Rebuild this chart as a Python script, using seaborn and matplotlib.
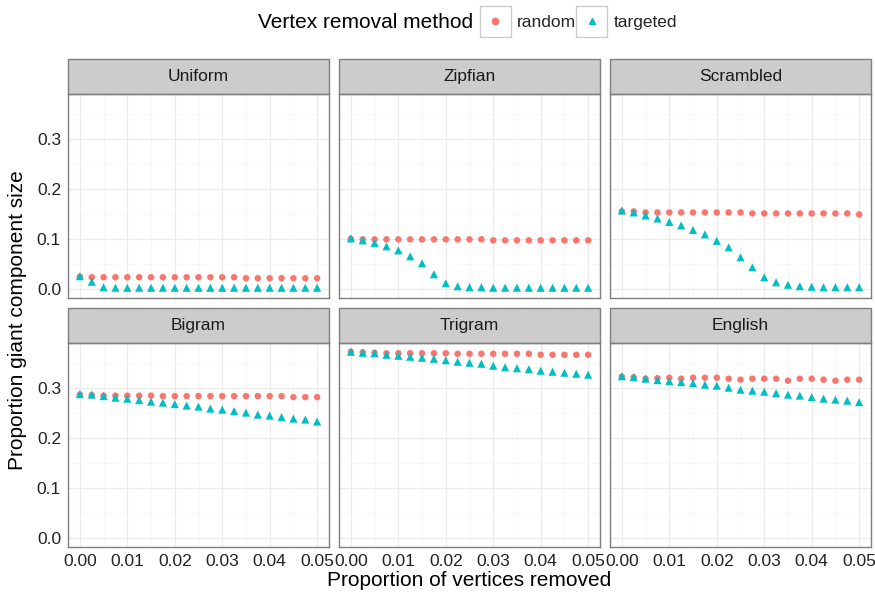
import pandas as pd
import matplotlib
matplotlib.use("Agg")
import matplotlib.pyplot as plt
import seaborn as sns
from matplotlib.patches import Rectangle
from matplotlib.lines import Line2D
from matplotlib.ticker import MultipleLocator

# Dados
corpora = ["Uniform", "Zipfian", "Scrambled", "Bigram", "Trigram", "English"]
removed = [0.0, 0.0025, 0.005, 0.0075, 0.01, 0.0125, 0.015, 0.0175, 0.02, 0.0225, 0.025,
           0.0275, 0.03, 0.0325, 0.035, 0.0375, 0.04, 0.0425, 0.045, 0.0475, 0.05]

random_uniform = [0.024, 0.023, 0.023, 0.023, 0.023, 0.023, 0.023, 0.023, 0.023, 0.023, 0.023,
                  0.023, 0.023, 0.023, 0.021, 0.021, 0.021, 0.021, 0.021, 0.021, 0.021]
targeted_uniform = [0.025, 0.014, 0.003, 0.002, 0.002, 0.002, 0.002, 0.002, 0.002, 0.002, 0.002,
                    0.002, 0.002, 0.002, 0.002, 0.002, 0.002, 0.002, 0.002, 0.002, 0.002]

random_zipfian = [0.100, 0.099, 0.099, 0.099, 0.099, 0.099, 0.099, 0.099, 0.099, 0.099, 0.099,
                  0.099, 0.097, 0.097, 0.097, 0.097, 0.097, 0.097, 0.097, 0.097, 0.097]
targeted_zipfian = [0.101, 0.097, 0.092, 0.085, 0.077, 0.065, 0.051, 0.029, 0.011, 0.005, 0.003,
                    0.003, 0.002, 0.002, 0.002, 0.002, 0.002, 0.002, 0.002, 0.002, 0.002]

random_scrambled = [0.155, 0.155, 0.153, 0.153, 0.153, 0.153, 0.153, 0.153, 0.153, 0.153, 0.153,
                    0.151, 0.151, 0.151, 0.151, 0.151, 0.151, 0.151, 0.151, 0.151, 0.149]
targeted_scrambled = [0.157, 0.153, 0.147, 0.141, 0.134, 0.127, 0.118, 0.109, 0.096, 0.083, 0.063,
                      0.043, 0.023, 0.013, 0.008, 0.005, 0.004, 0.003, 0.003, 0.003, 0.003]

random_bigram = [0.287, 0.286, 0.285, 0.285, 0.285, 0.285, 0.285, 0.284, 0.284, 0.284, 0.284,
                 0.284, 0.284, 0.284, 0.284, 0.284, 0.284, 0.284, 0.282, 0.282, 0.282]
targeted_bigram = [0.288, 0.287, 0.284, 0.281, 0.279, 0.276, 0.273, 0.271, 0.268, 0.265, 0.263,
                   0.259, 0.257, 0.254, 0.251, 0.247, 0.245, 0.242, 0.239, 0.237, 0.233]

random_trigram = [0.373, 0.372, 0.371, 0.370, 0.370, 0.370, 0.370, 0.370, 0.370, 0.369, 0.369,
                  0.369, 0.369, 0.369, 0.369, 0.369, 0.367, 0.367, 0.367, 0.367, 0.367]
targeted_trigram = [0.373, 0.371, 0.370, 0.367, 0.365, 0.363, 0.361, 0.359, 0.356, 0.353, 0.351,
                    0.349, 0.345, 0.342, 0.340, 0.338, 0.335, 0.333, 0.331, 0.329, 0.327]

random_english = [0.323, 0.322, 0.319, 0.320, 0.321, 0.319, 0.321, 0.321, 0.321, 0.319, 0.317,
                  0.319, 0.319, 0.319, 0.315, 0.319, 0.319, 0.317, 0.315, 0.317, 0.317]
targeted_english = [0.324, 0.322, 0.319, 0.316, 0.314, 0.312, 0.310, 0.307, 0.305, 0.301, 0.297,
                    0.295, 0.293, 0.290, 0.287, 0.285, 0.282, 0.279, 0.277, 0.275, 0.272]

series = {
    "Uniform": (random_uniform, targeted_uniform),
    "Zipfian": (random_zipfian, targeted_zipfian),
    "Scrambled": (random_scrambled, targeted_scrambled),
    "Bigram": (random_bigram, targeted_bigram),
    "Trigram": (random_trigram, targeted_trigram),
    "English": (random_english, targeted_english),
}

rows = []
for corpus in corpora:
    rnd, tgt = series[corpus]
    for x, y in zip(removed, rnd):
        rows.append((corpus, "random", x, y))
    for x, y in zip(removed, tgt):
        rows.append((corpus, "targeted", x, y))
df = pd.DataFrame(rows, columns=["corpus", "method", "removed", "size"])

sns.set_theme(style="white")
plt.rcParams["font.family"] = ["Liberation Sans", "DejaVu Sans"]

pal = {"random": "#F8766D", "targeted": "#00BFC4"}
mk = {"random": "o", "targeted": "^"}

g = sns.relplot(data=df, x="removed", y="size", hue="method", style="method",
                size="method", sizes={"random": 22, "targeted": 34},
                col="corpus", col_wrap=3, col_order=corpora, palette=pal, markers=mk,
                linewidth=0, height=2, aspect=1.3, legend=False,
                facet_kws=dict(sharex=True, sharey=True, despine=False))

fig = g.figure
W, H = 875, 593
fig.set_size_inches(W / 100, H / 100)
fig.set_dpi(100)

lefts = [68, 339, 610]
tops = [94, 343]
pw, ph = 261, 204
strip_h = 35

for i, ax in enumerate(g.axes.flat):
    r, c = divmod(i, 3)
    ax.set_position([lefts[c] / W, 1 - (tops[r] + ph) / H, pw / W, ph / H])
    ax.set_xlim(-0.0025, 0.0525)
    ax.set_ylim(-0.0186, 0.3906)
    ax.set_xticks([0, 0.01, 0.02, 0.03, 0.04, 0.05])
    ax.set_yticks([0, 0.1, 0.2, 0.3])
    ax.xaxis.set_minor_locator(MultipleLocator(0.005))
    ax.yaxis.set_minor_locator(MultipleLocator(0.05))
    ax.grid(True, which="major", color="#EBEBEB", lw=0.9)
    ax.grid(True, which="minor", color="#F6F6F6", lw=0.6)
    ax.set_axisbelow(True)
    ax.tick_params(which="minor", length=0)
    ax.tick_params(which="major", length=3, width=1, color="#333333",
                   labelsize=12.5, labelcolor="#222222", pad=2)
    if r == 1:
        ax.set_xticklabels(["0.00", "0.01", "0.02", "0.03", "0.04", "0.05"])
        ax.tick_params(axis="x", labelbottom=True)
    else:
        ax.tick_params(axis="x", length=0, labelbottom=False)
    if c == 0:
        ax.set_yticklabels(["0.0", "0.1", "0.2", "0.3"])
        ax.tick_params(axis="y", labelleft=True)
    else:
        ax.tick_params(axis="y", length=0, labelleft=False)
    for sp in ax.spines.values():
        sp.set_visible(True)
        sp.set_color("#7F7F7F")
        sp.set_linewidth(1.0)
    ax.set_title("")
    ax.set_xlabel("")
    ax.set_ylabel("")
    sh = strip_h / ph
    ax.add_patch(Rectangle((0, 1), 1, sh, transform=ax.transAxes, clip_on=False,
                           facecolor="#CCCCCC", edgecolor="#7F7F7F", lw=1.0))
    ax.text(0.5, 1 + sh / 2, corpora[i], transform=ax.transAxes, ha="center",
            va="center", fontsize=12.5, color="#1A1A1A")

fig.text(469 / W, 1 - 581 / H, "Proportion of vertices removed", ha="center",
         va="center", fontsize=15, color="black")
fig.text(18 / W, 1 - 320 / H, "Proportion giant component size", ha="center",
         va="center", rotation=90, fontsize=15, color="black")

# legenda no topo
fig.text(258 / W, 1 - 22 / H, "Vertex removal method", ha="left", va="center",
         fontsize=15, color="black")
handles = [Line2D([], [], ls="", marker="o", color=pal["random"], markersize=4.5),
           Line2D([], [], ls="", marker="^", color=pal["targeted"], markersize=5)]
leg = fig.legend(handles, ["random", "targeted"], loc="center left",
                 bbox_to_anchor=(478 / W, 1 - 22 / H), ncol=2, frameon=False,
                 fontsize=12.5, handlelength=2.0, handletextpad=0.25,
                 columnspacing=-0.1, borderaxespad=0, borderpad=0)
fig.canvas.draw()
fs_px = 12.5 * 100 / 72
for t in leg.get_texts():
    bb = t.get_window_extent()
    cx = bb.x0 - (0.25 + 1.0) * fs_px
    box = 31
    fig.add_artist(Rectangle(((cx - box / 2) / W, (H - 37) / H), box / W, box / H,
                             transform=fig.transFigure, facecolor="none",
                             edgecolor="#CCCCCC", lw=1.0))

fig.savefig("out.png", dpi=100)
